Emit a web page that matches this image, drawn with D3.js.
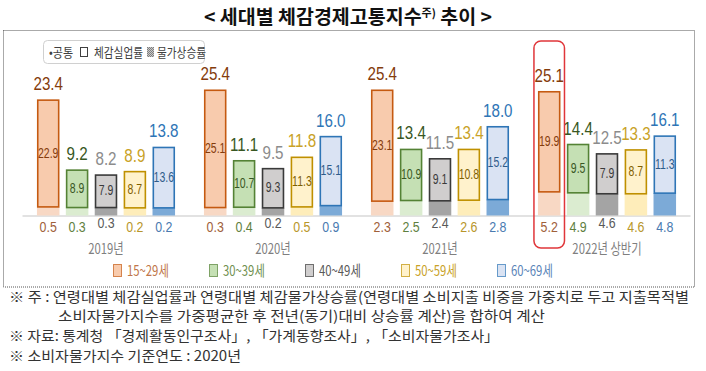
<html>
<head>
<meta charset="utf-8">
<script src="https://d3js.org/d3.v7.min.js"></script>
<style>
  body { margin: 0; background: #fff; }
  text { font-family: "Liberation Sans", "Noto Sans CJK KR", sans-serif; }
  .kr { font-family: "Noto Sans CJK KR", sans-serif; }
</style>
</head>
<body>
<svg id="chart" width="706" height="371"></svg>
<script>
// data
var years = ["2019년", "2020년", "2021년", "2022년 상반기"];
var ages = ["15~29세", "30~39세", "40~49세", "50~59세", "60~69세"];
// 체감경제고통지수 (total, label on top)
var totals = [[23.4, 9.2, 8.2, 8.9, 13.8], [25.4, 11.1, 9.5, 11.8, 16.0], [25.4, 13.4, 11.5, 13.4, 18.0], [25.1, 14.4, 12.5, 13.3, 16.1]];
// 체감실업률 (label inside bar)
var unemp = [[22.9, 8.9, 7.9, 8.7, 13.6], [25.1, 10.7, 9.3, 11.3, 15.1], [23.1, 10.9, 9.1, 10.8, 15.2], [19.9, 9.5, 7.9, 8.7, 11.3]];
// 물가상승률 (label under axis)
var prices = [[0.5, 0.3, 0.3, 0.2, 0.2], [0.3, 0.4, 0.2, 0.5, 0.9], [2.3, 2.5, 2.4, 2.6, 2.8], [5.2, 4.9, 4.6, 4.6, 4.8]];
var notes = [
  "※ 주 : 연령대별 체감실업률과 연령대별 체감물가상승률(연령대별 소비지출 비중을 가중치로 두고 지출목적별",
  "소비자물가지수를 가중평균한 후 전년(동기)대비 상승률 계산)을 합하여 계산",
  "※ 자료: 통계청 「경제활동인구조사」, 「가계동향조사」, 「소비자물가조사」",
  "※ 소비자물가지수 기준연도 : 2020년"
];

var fills   = ["#f8cbad", "#c5e0b4", "#d0cece", "#fff2cc", "#dae3f3"];
var strokes = ["#c55a11", "#548235", "#3a3a3a", "#bf9000", "#2e75b6"];
var topCol  = ["#843c0c", "#385723", "#8c8c8c", "#c9a227", "#2e75b6"];
var inCol   = ["#843c0c", "#385723", "#3a3a3a", "#7f6000", "#2e5c8a"];
var lowCol  = ["#a0603a", "#5f7f3f", "#595959", "#b8962a", "#4a7ab0"];
var legCol  = ["#c0764a", "#6f9050", "#595959", "#c9a227", "#5a84b8"];
var hatchBase = ["#fbe3d3", "#e2f0d9", "#c8c8c8", "#fff2cc", "#bdd7ee"];
var hatchDot  = ["#f4cdb4", "#d3e7c6", "#7f7f7f", "#fce8a8", "#3b7cc0"];

var svg = d3.select("#chart");

var x0 = d3.scaleBand().domain(years).range([22.5, 690.5]);
var x1 = d3.scaleBand().domain(ages).range([0, x0.bandwidth()]).paddingInner(0.22).paddingOuter(0.5);
var y = d3.scaleLinear().domain([0, 27]).range([215.5, 82.4]);
// the price part is drawn on its own (not to the same scale) in the source
var hp = d3.scaleLinear().domain([0, 5]).range([7, 23]);

// condensed label helper
function label(g, x, yy, txt, size, color, sx, anchor) {
  return g.append("text")
    .attr("transform", "translate(" + x + "," + yy + ") scale(" + (sx || 0.82) + ",1)")
    .attr("text-anchor", anchor || "middle")
    .style("font-size", size + "px")
    .style("fill", color)
    .text(txt);
}

var defs = svg.append("defs");
ages.forEach(function(a, i) {
  var p = defs.append("pattern").attr("id", "hatch" + i)
    .attr("width", 2).attr("height", 2).attr("patternUnits", "userSpaceOnUse");
  p.append("rect").attr("width", 2).attr("height", 2).attr("fill", hatchBase[i]);
  p.append("rect").attr("width", 1).attr("height", 1).attr("fill", hatchDot[i]);
  p.append("rect").attr("x", 1).attr("y", 1).attr("width", 1).attr("height", 1).attr("fill", hatchDot[i]);
});

// title
var title = svg.append("text").attr("class", "kr")
  .attr("x", 348).attr("y", 24).attr("text-anchor", "middle")
  .style("font-size", "19.5px").style("font-weight", "bold").style("fill", "#111");
title.append("tspan").text("< 세대별 체감경제고통지수");
title.append("tspan").attr("dy", -7).style("font-size", "11px").text("주)");
title.append("tspan").attr("dy", 7).text(" 추이 >");

// dotted frame
svg.append("rect").attr("x", 3.5).attr("y", 30.5).attr("width", 691).attr("height", 256.5)
  .attr("fill", "none").attr("stroke", "#555").attr("stroke-dasharray", "1,1");

// common legend box
var lg = svg.append("g");
lg.append("rect").attr("x", 43.5).attr("y", 40.5).attr("width", 161).attr("height", 23).attr("rx", 4)
  .attr("fill", "#fff").attr("stroke", "#d0d0d0");
label(lg, 49, 57, "•공통", 13, "#404040", 0.85, "start").attr("class", "kr");
lg.append("rect").attr("x", 80.5).attr("y", 47.5).attr("width", 7).attr("height", 9).attr("fill", "#fff").attr("stroke", "#404040");
label(lg, 94, 57, "체감실업률", 13, "#404040", 0.82, "start").attr("class", "kr");
lg.append("rect").attr("x", 147).attr("y", 47).attr("width", 7).attr("height", 10).attr("fill", "url(#hatch2)");
label(lg, 157, 57, "물가상승률", 13, "#404040", 0.82, "start").attr("class", "kr");

// axis line
svg.append("line").attr("x1", x0.range()[0]).attr("x2", x0.range()[1])
  .attr("y1", y(0) + 0.5).attr("y2", y(0) + 0.5).attr("stroke", "#d9d9d9").attr("stroke-width", 1.5);

var groups = svg.selectAll("g.year").data(years).enter().append("g")
  .attr("class", "year")
  .attr("transform", function(d) { return "translate(" + x0(d) + ",0)"; });

groups.each(function(yr, gi) {
  var g = d3.select(this);
  var bw = x1.bandwidth();
  ages.forEach(function(a, i) {
    var bx = x1(a);
    var splitY = y(0) - hp(prices[gi][i]);
    // price part
    g.append("rect").attr("x", bx).attr("y", splitY).attr("width", bw).attr("height", y(0) - splitY)
      .attr("fill", "url(#hatch" + i + ")");
    // unemployment part
    g.append("rect").attr("x", bx + 0.8).attr("y", y(totals[gi][i]))
      .attr("width", bw - 1.6).attr("height", splitY - y(totals[gi][i]))
      .attr("fill", fills[i]).attr("stroke", strokes[i]).attr("stroke-width", 1.6);
    label(g, bx + bw / 2, y(totals[gi][i]) - 10, d3.format(".1f")(totals[gi][i]), 18.5, topCol[i]);
    label(g, bx + bw / 2, (y(totals[gi][i]) + splitY) / 2 + 4, d3.format(".1f")(unemp[gi][i]), 15, inCol[i], 0.7);
    label(g, bx + bw / 2, y(0) + (i == 2 ? 12.5 : 16), d3.format(".1f")(prices[gi][i]), 15.5, lowCol[i], 0.8);
  });
  label(g, x0.bandwidth() / 2, 253.5, yr, 14.5, "#7f7f7f", 0.78).attr("class", "kr");
});

// highlight on 2022 youth bar
var hx = x0(years[3]) + x1(ages[0]);
svg.append("rect").attr("x", hx - 4).attr("y", 41).attr("width", x1.bandwidth() + 8).attr("height", 207)
  .attr("rx", 7).attr("fill", "none").attr("stroke", "#e0363a").attr("stroke-width", 1.5);

// age legend
var lx = d3.scaleLinear().domain([0, 4]).range([113, 497]);
ages.forEach(function(a, i) {
  svg.append("rect").attr("x", lx(i) + 0.5).attr("y", 264.5).attr("width", 8).attr("height", 12)
    .attr("fill", fills[i]).attr("stroke", strokes[i]).attr("stroke-opacity", 0.7);
  label(svg, lx(i) + 14, 276, a, 14.5, legCol[i], 0.78, "start").attr("class", "kr");
});

// footnotes
var nx = [9, 58, 9, 9], ny = [302, 321, 341, 361], nw = [680, 487, 490, 232];
notes.forEach(function(t, i) {
  svg.append("text").attr("class", "kr").attr("x", nx[i]).attr("y", ny[i])
    .attr("textLength", nw[i]).attr("lengthAdjust", "spacingAndGlyphs")
    .style("font-size", "14px").style("fill", "#333").text(t);
});
</script>
</body>
</html>
